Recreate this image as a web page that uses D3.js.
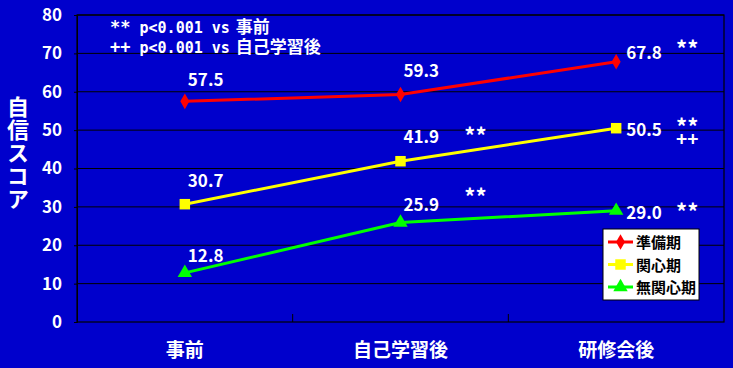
<!DOCTYPE html>
<html><head><meta charset="utf-8">
<script src="https://cdn.jsdelivr.net/npm/d3@7"></script>
<style>
html,body{margin:0;padding:0;background:#0000CC;}
text{font-family:"Noto Sans CJK JP","DejaVu Sans",sans-serif;}
</style></head>
<body><svg id="c" width="733" height="368"></svg>
<script>
const categories = ["事前", "自己学習後", "研修会後"];
const seriesNames = ["準備期", "関心期", "無関心期"];
const junbi = [57.5, 59.3, 67.8];
const kanshin = [30.7, 41.9, 50.5];
const mukanshin = [12.8, 25.9, 29.0];
const seriesColors = ["#FF0000", "#FFFF00", "#00FF00"];
const yTicks = [0, 10, 20, 30, 40, 50, 60, 70, 80];
const sigMarks = [
  {s: 1, c: 1, t: ["**"]}, {s: 2, c: 1, t: ["**"]},
  {s: 0, c: 2, t: ["**"]}, {s: 1, c: 2, t: ["**", "++"]}, {s: 2, c: 2, t: ["**"]}
];
const notes = [["**", " p<0.001 vs ", "事前"], ["++", " p<0.001 vs ", "自己学習後"]];
const yTitle = "自信スコア";

const series = [junbi, kanshin, mukanshin];
const svg = d3.select("#c");
const L = 77, R = 724, T = 15, B = 322;
const x = d3.scaleBand().domain(categories).range([L, R]);
const y = d3.scaleLinear().domain([0, 80]).range([B, T]);
const cx = c => x(c) + x.bandwidth() / 2;
const narrow = "'Liberation Sans Narrow','DejaVu Sans Condensed',sans-serif";
const mono = "'DejaVu Sans Mono',monospace";

// gridlines
svg.append("g").selectAll("line").data(yTicks.filter(d => d > 0)).join("line")
  .attr("x1", L).attr("x2", R).attr("y1", d => y(d)).attr("y2", d => y(d))
  .attr("stroke", "#000").attr("stroke-width", 1);
// border
svg.append("rect").attr("x", L).attr("y", T).attr("width", R - L).attr("height", B - T)
  .attr("fill", "none").attr("stroke", "#000").attr("stroke-width", 1.2);

// y axis
const ya = svg.append("g").attr("transform", `translate(${L},0)`)
  .call(d3.axisLeft(y).tickValues(yTicks).tickSize(3).tickPadding(12));
ya.select(".domain").attr("stroke", "#000");
ya.selectAll(".tick line").attr("stroke", "#000");
ya.selectAll("text").attr("fill", "#fff").attr("font-size", 17).attr("font-weight", "bold")
  .attr("font-family", narrow);

// x axis
const xa = svg.append("g").attr("transform", `translate(0,${B})`)
  .call(d3.axisBottom(x).tickSize(0).tickPadding(22));
xa.select(".domain").remove();
xa.selectAll("text").attr("fill", "#fff").attr("font-size", 19).attr("font-weight", "bold");
svg.append("g").selectAll("line").data(categories.slice(1)).join("line")
  .attr("x1", d => x(d)).attr("x2", d => x(d)).attr("y1", B).attr("y2", B - 8)
  .attr("stroke", "#000");

// y title (vertical)
svg.append("text").attr("x", 18).attr("y", 96)
  .style("writing-mode", "vertical-rl").style("text-orientation", "upright")
  .attr("letter-spacing", 1)
  .attr("fill", "#fff").attr("font-size", 22).attr("font-weight", "bold").text(yTitle);

// lines
const line = d3.line().x((d, i) => cx(categories[i])).y(d => y(d));
series.forEach((s, k) => {
  svg.append("path").datum(s).attr("d", line).attr("fill", "none")
    .attr("stroke", seriesColors[k]).attr("stroke-width", 3);
});
const sym = [d3.symbolDiamond, d3.symbolSquare, d3.symbolTriangle];
const symSize = [70, 110, 90];
function marker(g, k, px, py) {
  g.append("path").attr("d", d3.symbol().type(sym[k]).size(symSize[k]))
    .attr("transform", `translate(${px},${py})`).attr("fill", seriesColors[k]);
}
series.forEach((s, k) => s.forEach((v, i) => marker(svg, k, cx(categories[i]), y(v))));

// value labels (label-centre offsets from marker, per series / category)
const labelDy = [[-21, -23, -9], [-23, -24, 2], [-17, -18, 2]];
series.forEach((s, k) => s.forEach((v, i) => {
  const last = i === 2;
  svg.append("text")
    .attr("x", cx(categories[i]) + (last ? 10 : 3))
    .attr("y", y(v) + labelDy[k][i] + 6)
    .attr("fill", "#fff").attr("font-size", 17).attr("font-weight", "bold")
    .attr("font-family", narrow)
    .text(v.toFixed(1));
}));

// significance marks
sigMarks.forEach(m => {
  const v = series[m.s][m.c];
  const px = m.c === 2 ? cx(categories[2]) + 71 : cx(categories[1]) + 75;
  const off = m.c === 2 ? (m.s === 0 ? -17 : m.s === 1 ? -6 : -3) : -30;
  const t = svg.append("text").attr("text-anchor", "middle")
    .attr("fill", "#fff").attr("font-weight", "bold")
    .attr("font-family", "'DejaVu Sans',sans-serif");
  m.t.forEach((s, j) => {
    t.append("tspan").attr("x", px)
      .attr("y", j === 0 ? y(v) + off + 12.5 : y(v) + off + 23.5)
      .attr("font-size", j === 0 ? 22 : 19).text(s);
  });
});

// notes
notes.forEach((n, i) => {
  const t = svg.append("text").attr("x", 110).attr("y", 33 + i * 20).attr("fill", "#fff")
    .attr("font-weight", "bold").attr("xml:space", "preserve");
  t.append("tspan").attr("font-family", mono).attr("font-size", 17).text(n[0]);
  t.append("tspan").attr("font-family", mono).attr("font-size", 15).text(n[1]);
  t.append("tspan").attr("dx", -3).attr("font-size", 17).text(n[2]);
});

// legend
const lg = svg.append("g").attr("transform", "translate(603,229)");
lg.append("rect").attr("width", 96).attr("height", 71).attr("fill", "#fff").attr("stroke", "#000");
seriesNames.forEach((n, k) => {
  const yy = 13 + k * 22.5;
  lg.append("line").attr("x1", 5).attr("x2", 30).attr("y1", yy).attr("y2", yy)
    .attr("stroke", seriesColors[k]).attr("stroke-width", 3);
  marker(lg, k, 17.5, yy);
  lg.append("text").attr("x", 33).attr("y", yy + 6).attr("fill", "#000")
    .attr("font-size", 15).attr("font-weight", "bold").text(n);
});
</script></body></html>
